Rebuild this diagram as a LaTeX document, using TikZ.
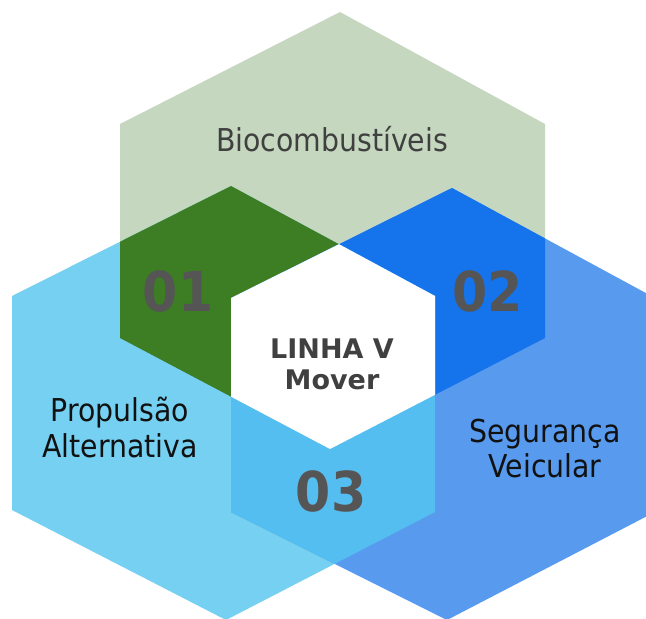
\documentclass[tikz,border=0pt]{standalone}
\usepackage{fontspec}
\newfontfamily\lblfont[FakeStretch=0.9]{DejaVu Sans}
\newfontfamily\numfont[FakeStretch=0.92]{DejaVu Sans}
\newfontfamily\ctrfont{DejaVu Sans}
\definecolor{cT}{HTML}{C5D8BF}
\definecolor{cL}{HTML}{75D0F2}
\definecolor{cR}{HTML}{589AEE}
\definecolor{cTL}{HTML}{3D7D24}
\definecolor{cTR}{HTML}{1573EC}
\definecolor{cLR}{HTML}{55BEF0}
\definecolor{txtgray}{HTML}{404040}
\definecolor{numgray}{HTML}{555555}
\definecolor{txtblack}{HTML}{111111}
\tikzset{
  lbl/.style={inner sep=0pt, anchor=base, font=\lblfont\fontsize{31.5}{36}\selectfont},
  lblgray/.style={lbl, text=txtgray},
  lblblack/.style={lbl, text=txtblack},
  numlbl/.style={inner sep=0pt, anchor=base, text=numgray, font=\numfont\bfseries\fontsize{55}{60}\selectfont},
  ctrlbl/.style={inner sep=0pt, anchor=base, text=txtgray, font=\ctrfont\bfseries\fontsize{27}{31}\selectfont}
}
\begin{document}
\begin{tikzpicture}[x=1pt,y=-1pt]
\clip (0,0) rectangle (646,619);
\fill[white] (0,0) rectangle (646,619);
\def\hexT{(340,12) -- (545,124) -- (545,338) -- (330,449) -- (120,338) -- (120,124) -- cycle}
\def\hexL{(231,186) -- (435,296) -- (435,512) -- (226,620) -- (12,510) -- (12,296) -- cycle}
\def\hexR{(452,188) -- (655,298) -- (655,512) -- (447,620) -- (231,512) -- (231,298) -- cycle}
% base hexagons
\fill[cT] \hexT;
\fill[cL] \hexL;
\fill[cR] \hexR;
% pairwise overlaps
\begin{scope}
  \clip \hexT;
  \fill[cTL] \hexL;
  \fill[cTR] \hexR;
\end{scope}
\begin{scope}
  \clip \hexL;
  \fill[cLR] \hexR;
\end{scope}
% triple overlap
\begin{scope}
  \clip \hexT;
  \clip \hexL;
  \fill[white] \hexR;
\end{scope}
% labels
\node[lblgray] (bio) at (332,151.4) {Biocombustíveis};
\node[lblblack] (prop1) at (120,421) {Propulsão};
\node[lblblack] (prop2) at (120,457) {Alternativa};
\node[lblblack] (seg1) at (545,442) {Segurança};
\node[lblblack] (seg2) at (545,477) {Veicular};
\node[numlbl] (n01) at (178,311.7) {01};
\node[numlbl] (n02) at (487.5,311.7) {02};
\node[numlbl] (n03) at (331,511.7) {03};
\node[ctrlbl] (ctr1) at (332,358) {LINHA V};
\node[ctrlbl] (ctr2) at (332,389) {Mover};
\end{tikzpicture}
\end{document}
